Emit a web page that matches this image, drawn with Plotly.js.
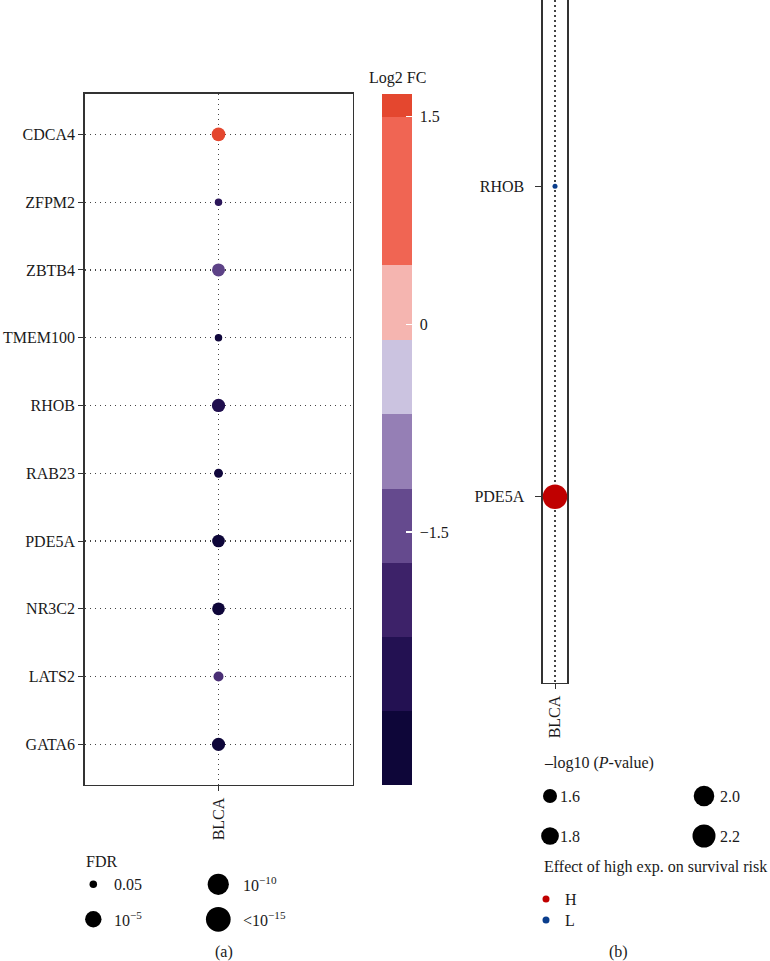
<!DOCTYPE html>
<html><head><meta charset="utf-8">
<script src="https://cdn.plot.ly/plotly-3.0.1.min.js"></script>
<style>html,body{margin:0;padding:0;background:#fff}</style>
</head><body><div id="chart" style="width:770px;height:961px"></div>
<script>
// ---------------- data ----------------
const cancer = 'BLCA';
const genesA = ['CDCA4','ZFPM2','ZBTB4','TMEM100','RHOB','RAB23','PDE5A','NR3C2','LATS2','GATA6'];
const log2fcA = [1.666, -2.35, -1.55, -3.0, -2.6, -3.0, -3.324, -3.2, -1.8, -3.1];
const negLog10FdrA = [3.08, 1.30, 2.70, 1.30, 2.86, 1.40, 2.55, 2.55, 1.59, 2.86];
const fdrLegendValues = [1.3, 5, 10, 15];
const fdrLegendLabels = ['0.05', '10<sup>−5</sup>', '10<sup>−10</sup>', '&lt;10<sup>−15</sup>'];
const cbTickVals = [-1.5, 0, 1.5];
const cbTickText = ['−1.5', '0', '1.5'];

const genesB = ['PDE5A','RHOB'];
const negLog10PB = [2.34, 1.40];
const effectB = ['H','L'];
const pLegendValues = [1.6, 1.8, 2.0, 2.2];
const pLegendLabels = ['1.6', '1.8', '2.0', '2.2'];
const effectLevels = ['H','L'];

// ---------------- style ----------------
const W = 770, H = 961;
const FONT = 'Liberation Serif, Times New Roman, serif';
const TXT = '#1a1a1a';
const effectColors = {H: '#C00000', L: '#0A3D8C'};
const stepColors = ['#0E0639','#231152','#3D2269','#654A8E','#957FB5','#CBC3E0','#F5B5B0','#F06553','#E4472F'];
const stepBreaks = [0, 0.107, 0.2145, 0.3216, 0.4286, 0.5367, 0.6447, 0.752, 0.9667, 1];
const stepScale = [];
stepColors.forEach((c, i) => { stepScale.push([stepBreaks[i], c]); stepScale.push([stepBreaks[i+1], c]); });
const smoothScale = [[0,'#0E0639'],[0.054,'#0E0639'],[0.162,'#231152'],[0.269,'#3D2269'],[0.377,'#654A8E'],
  [0.484,'#957FB5'],[0.591,'#CBC3E0'],[0.698,'#F5B5B0'],[0.859,'#F06553'],[0.95,'#F06553'],[1,'#E4472F']];

function sizeFDR(x){ const v = Math.min(Math.max(x,1.3),15); return 7.5 + 17.2*Math.sqrt((v-1.3)/13.7); }
function sizeP(v){ return 5 + 19.5*Math.sqrt(Math.max(v-1.4,0)/0.939); }
const px = v => v / W, py = v => 1 - v / H;

const cmin = Math.min(...log2fcA), cmax = Math.max(...log2fcA);

// legend layout (pixel positions)
const fdrCols = [93.3, 218.3], fdrRows = [884.3, 919.3], fdrLabelX = [112, 241];
const pCols = [550, 704], pRows = [796, 836], pLabelX = [558, 718];
const effX = 546, effRows = [899, 920], effLabelX = 563;

const traces = [];
// panel (a) points
traces.push({
  type: 'scatter', mode: 'markers', xaxis: 'x', yaxis: 'y',
  x: genesA.map(() => cancer), y: genesA,
  marker: {size: negLog10FdrA.map(sizeFDR), color: log2fcA, colorscale: smoothScale, cmin: cmin, cmax: cmax,
           showscale: false, line: {width: 0}, opacity: 1},
  cliponaxis: false, hoverinfo: 'skip'
});
// colorbar carrier
traces.push({
  type: 'scatter', mode: 'markers', xaxis: 'x', yaxis: 'y',
  x: genesA.map(() => cancer), y: genesA,
  marker: {size: 0.01, opacity: 0, color: log2fcA, colorscale: stepScale, cmin: cmin, cmax: cmax, showscale: true,
    colorbar: {thickness: 30, thicknessmode: 'pixels', len: 691.3, lenmode: 'pixels',
      x: px(382), xanchor: 'left', y: py(93.7), yanchor: 'top', xpad: 0, ypad: 0,
      outlinewidth: 0, ticks: 'inside', ticklen: 6, tickwidth: 1.5, tickcolor: '#ffffff',
      tickvals: cbTickVals, ticktext: cbTickText.map(t => '\u00A0' + t),
      tickfont: {family: FONT, size: 16, color: TXT}}},
  hoverinfo: 'skip'
});
// panel (b) points
traces.push({
  type: 'scatter', mode: 'markers', xaxis: 'x2', yaxis: 'y2',
  x: genesB.map(() => cancer), y: genesB,
  marker: {size: negLog10PB.map(sizeP), color: effectB.map(e => effectColors[e]), line: {width: 0}, opacity: 1},
  cliponaxis: false, hoverinfo: 'skip'
});
// FDR legend keys
traces.push({
  type: 'scatter', mode: 'markers', xaxis: 'x3', yaxis: 'y3',
  x: fdrLegendValues.map((v, i) => fdrCols[Math.floor(i/2)]),
  y: fdrLegendValues.map((v, i) => fdrRows[i%2]),
  marker: {size: fdrLegendValues.map(sizeFDR), color: '#000', line: {width: 0}, opacity: 1},
  cliponaxis: false, hoverinfo: 'skip'
});
// P legend keys
traces.push({
  type: 'scatter', mode: 'markers', xaxis: 'x3', yaxis: 'y3',
  x: pLegendValues.map((v, i) => pCols[Math.floor(i/2)]),
  y: pLegendValues.map((v, i) => pRows[i%2]),
  marker: {size: pLegendValues.map(sizeP), color: '#000', line: {width: 0}, opacity: 1},
  cliponaxis: false, hoverinfo: 'skip'
});
// effect legend keys
traces.push({
  type: 'scatter', mode: 'markers', xaxis: 'x3', yaxis: 'y3',
  x: effectLevels.map(() => effX), y: effectLevels.map((e, i) => effRows[i]),
  marker: {size: 7, color: effectLevels.map(e => effectColors[e]), line: {width: 0}, opacity: 1},
  cliponaxis: false, hoverinfo: 'skip'
});

const ann = [];
const T = (text, x, y, xanchor, size) => ({text: text, xref: 'x3', yref: 'y3', x: x, y: y, xanchor: xanchor || 'left',
  yanchor: 'middle', showarrow: false, font: {family: FONT, size: size || 16, color: TXT}});
ann.push({text: 'Log2 FC', xref: 'paper', yref: 'paper', x: px(397), y: py(78), xanchor: 'center', yanchor: 'middle',
  showarrow: false, font: {family: FONT, size: 16, color: TXT}});
ann.push(T('FDR', 84, 861));
fdrLegendLabels.forEach((l, i) => ann.push(T(l, fdrLabelX[Math.floor(i/2)], fdrRows[i%2])));
ann.push(T('(a)', 224, 952, 'center'));
ann.push(T('–log10 (<i>P</i>-value)', 542, 763));
pLegendLabels.forEach((l, i) => ann.push(T(l, pLabelX[Math.floor(i/2)], pRows[i%2])));
ann.push(T('Effect of high exp. on survival risk', 542, 867));
effectLevels.forEach((l, i) => ann.push(T(l, effLabelX, effRows[i])));
ann.push(T('(b)', 618, 952, 'center'));

const axFont = {family: FONT, size: 16, color: TXT};
const layout = {
  width: W, height: H, margin: {l: 0, r: 0, t: 0, b: 0}, paper_bgcolor: '#fff', plot_bgcolor: 'rgba(0,0,0,0)',
  showlegend: false, font: {family: FONT, color: TXT},
  xaxis: {domain: [px(84.5), px(352.5)], anchor: 'y', type: 'category', range: [-0.5, 0.5],
    showline: true, mirror: true, linecolor: '#333', linewidth: 1.3,
    showgrid: true, gridcolor: '#444', gridwidth: 1.2, griddash: '1.5px,3.5px', zeroline: false,
    ticks: 'outside', ticklen: 5, tickcolor: '#333', tickangle: -90, tickfont: axFont, fixedrange: true},
  yaxis: {domain: [py(785), py(93.7)], anchor: 'x', type: 'category', categoryorder: 'array', categoryarray: genesA,
    range: [genesA.length - 0.4, -0.6],
    showline: true, mirror: true, linecolor: '#333', linewidth: 1.3,
    showgrid: true, gridcolor: '#444', gridwidth: 1.2, griddash: '1.5px,3.5px', zeroline: false,
    ticks: 'outside', ticklen: 5, tickcolor: '#333', tickfont: axFont, fixedrange: true},
  xaxis2: {domain: [px(542.7), px(567.3)], anchor: 'y2', type: 'category', range: [-0.5, 0.5],
    showline: true, mirror: false, linecolor: '#333', linewidth: 1.3, layer: 'below traces',
    showgrid: true, gridcolor: '#444', gridwidth: 1.2, griddash: '1.5px,3.5px', zeroline: false,
    ticks: 'outside', ticklen: 5, tickcolor: '#333', tickangle: -90, tickfont: axFont, fixedrange: true},
  yaxis2: {domain: [py(683), 1], anchor: 'x2', type: 'category', categoryorder: 'array', categoryarray: genesB,
    range: [-0.6, genesB.length - 0.4],
    showline: true, mirror: true, linecolor: '#333', linewidth: 1.3, layer: 'below traces',
    showgrid: false, zeroline: false, ticklabelstandoff: 8,
    ticks: 'outside', ticklen: 6, tickcolor: '#333', tickfont: axFont, fixedrange: true},
  xaxis3: {domain: [0, 1], anchor: 'y3', range: [0, W], visible: false, fixedrange: true},
  yaxis3: {domain: [0, 1], anchor: 'x3', range: [H, 0], visible: false, fixedrange: true},
  annotations: ann
};
Plotly.newPlot('chart', traces, layout, {staticPlot: true, displayModeBar: false});
</script></body></html>
